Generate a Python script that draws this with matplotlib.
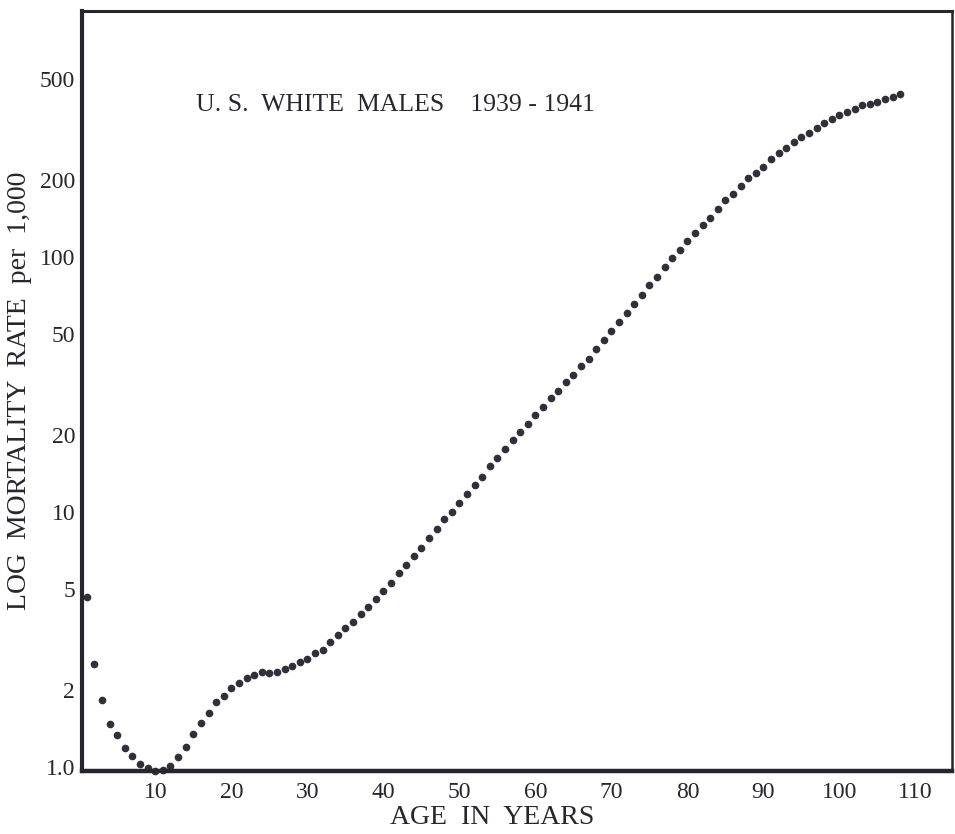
import matplotlib
matplotlib.use("Agg")
import matplotlib.pyplot as plt
from matplotlib.ticker import FixedLocator, FixedFormatter, NullLocator

plt.rcParams['font.family'] = ['Liberation Serif', 'DejaVu Serif']

# mortality rate per 1,000, one dot per year of age
ages = list(range(1, 109))
rates = [
    4.65, 2.53, 1.83, 1.47, 1.34, 1.19, 1.10, 1.03, 0.99, 0.967,
    0.973, 1.01, 1.09, 1.20, 1.35, 1.49, 1.63, 1.79, 1.90, 2.04,
    2.14, 2.23, 2.30, 2.35, 2.34, 2.35, 2.42, 2.49, 2.59, 2.64,
    2.79, 2.88, 3.10, 3.29, 3.50, 3.70, 3.97, 4.25, 4.54, 4.91,
    5.28, 5.78, 6.18, 6.74, 7.25, 7.93, 8.60, 9.39, 10.0, 10.8,
    11.8, 12.7, 13.7, 15.1, 16.3, 17.7, 19.1, 20.5, 22.2, 23.9,
    25.9, 27.9, 29.8, 32.4, 34.5, 37.2, 39.8, 43.6, 47.3, 51.3,
    55.6, 60.3, 65.6, 71.1, 77.4, 83.7, 91.2, 98.9, 106.5, 115.6,
    123.8, 133.4, 142.6, 154.3, 166.6, 177.4, 189.3, 203.5, 214, 226,
    242, 255, 268, 282, 296, 306, 321, 335, 347, 360,
    371, 382, 393, 399, 406, 417, 424, 435,
]

x_ticks = [10, 20, 30, 40, 50, 60, 70, 80, 90, 100, 110]
y_ticks = [1, 2, 5, 10, 20, 50, 100, 200, 500]
y_tick_labels = ['1.0', '2', '5', '10', '20', '50', '100', '200', '500']

ink = '#26262e'

fig = plt.figure(figsize=(9.55, 8.34), dpi=100)
ax = fig.add_axes([82/955, 1 - 771/834, 870/955, 760/834])

ax.plot(ages, rates, 'o', color='#30303a', markersize=4.5, clip_on=False)

ax.set_yscale('log')
ax.set_xlim(0.36, 114.8)
ax.set_ylim(0.964, 922)

ax.xaxis.set_major_locator(FixedLocator(x_ticks))
ax.yaxis.set_major_locator(FixedLocator(y_ticks))
ax.yaxis.set_major_formatter(FixedFormatter(y_tick_labels))
ax.yaxis.set_minor_locator(NullLocator())
ax.tick_params(axis='both', length=0, labelsize=17, colors=ink)
ax.tick_params(axis='x', pad=8)
ax.tick_params(axis='y', pad=5)

for side, lw in [('left', 3.0), ('bottom', 3.2), ('top', 2.2), ('right', 1.8)]:
    ax.spines[side].set_linewidth(lw)
    ax.spines[side].set_color(ink)

ax.text(0.36, 0.876, 'U. S.  WHITE  MALES    1939 - 1941', transform=ax.transAxes,
        ha='center', va='center', fontsize=18.5, color=ink)

ax.set_xlabel('AGE  IN  YEARS', fontsize=20, color=ink)
ax.xaxis.set_label_coords(0.471, -0.045, transform=ax.transAxes)
ax.xaxis.label.set_va('top')
ax.set_ylabel('LOG  MORTALITY  RATE  per  1,000', fontsize=20, color=ink)
ax.yaxis.set_label_coords(-0.0724, 0.5, transform=ax.transAxes)
ax.yaxis.label.set_va('center')

fig.savefig('out.png', dpi=100, facecolor='white')
